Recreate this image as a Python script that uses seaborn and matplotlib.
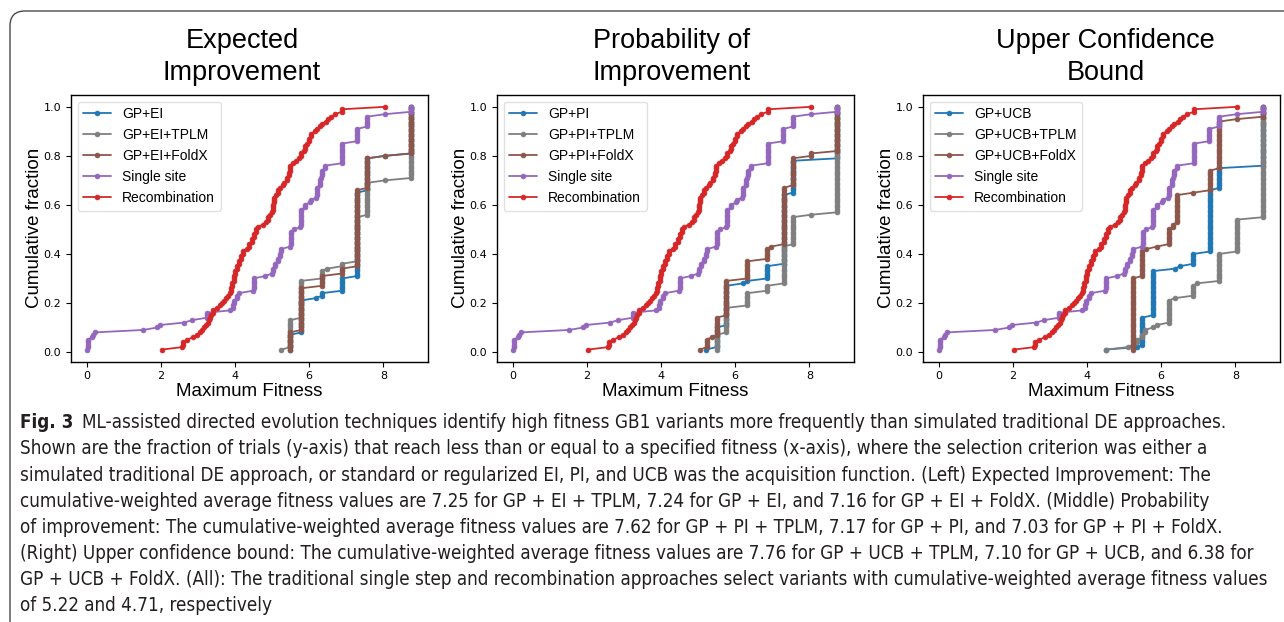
import numpy as np
import matplotlib
matplotlib.use("Agg")
import matplotlib.pyplot as plt
import seaborn as sns
from matplotlib.patches import FancyBboxPatch
from matplotlib.transforms import IdentityTransform

# ---------------- data (fitness value reached, cumulative % of trials) -------------
single_fit = [0.00, 0.02, 0.15, 0.17, 0.21, 1.52, 1.90, 1.96, 2.62, 2.84, 3.24, 3.87, 3.93, 3.98,
              4.05, 4.10, 4.48, 4.50, 4.81, 4.99, 5.03, 5.08, 5.15, 5.22, 5.25, 5.48, 5.50, 5.60,
              5.75, 5.78, 5.89, 6.02, 6.05, 6.18, 6.20, 6.28, 6.31, 6.34, 6.43, 6.88, 7.30, 7.57,
              8.04, 8.76]
single_cum = [1, 5, 6, 7, 8, 9, 10, 11, 12, 13, 16, 17, 19, 21,
              23, 24, 25, 30, 31, 32, 34, 36, 38, 40, 42, 43, 49, 50,
              51, 58, 60, 61, 62, 63, 67, 70, 71, 74, 76, 85, 91, 96,
              97, 100]

recomb_fit = [2.03, 2.57, 2.60, 2.71, 2.85, 2.98, 3.05, 3.11, 3.16, 3.22, 3.27, 3.30, 3.33, 3.36,
              3.40, 3.50, 3.60, 3.65, 3.70, 3.75, 3.80, 3.85, 3.88, 3.92, 3.96, 4.00, 4.05, 4.10,
              4.15, 4.21, 4.33, 4.38, 4.45, 4.50, 4.56, 4.62, 4.75, 4.82, 4.88, 4.95, 4.99, 5.02,
              5.05, 5.10, 5.15, 5.22, 5.28, 5.33, 5.40, 5.45, 5.48, 5.57, 5.65, 5.72, 5.78, 5.85,
              5.89, 5.95, 6.00, 6.05, 6.15, 6.20, 6.30, 6.34, 6.45, 6.52, 6.60, 6.70, 6.88, 8.04]
recomb_cum = [1, 2, 4, 5, 6, 7, 8, 9, 10, 11, 12, 13, 14, 15,
              17, 18, 19, 20, 21, 22, 23, 24, 26, 28, 31, 33, 35, 37,
              39, 41, 42, 44, 46, 48, 50, 51, 52, 53, 55, 56, 57, 60,
              63, 64, 66, 67, 68, 69, 71, 73, 76, 77, 78, 79, 81, 82,
              84, 85, 87, 89, 90, 91, 92, 93, 94, 95, 96, 97, 99, 100]

ei_fit = [5.49, 5.78, 6.18, 6.34, 6.88, 7.30, 7.57, 8.04, 8.76]
ei_cum = [7, 21, 22, 24, 30, 65, 79, 80, 100]
ei_tplm_fit = [5.25, 5.49, 5.78, 6.34, 6.49, 6.88, 7.30, 7.57, 8.04, 8.76]
ei_tplm_cum = [1, 13, 29, 33, 34, 36, 55, 69, 70, 100]
ei_foldx_fit = [5.49, 5.78, 6.34, 6.88, 7.30, 7.57, 8.04, 8.76]
ei_foldx_cum = [8, 26, 31, 34, 66, 79, 80, 100]

pi_fit = [5.20, 5.50, 5.76, 6.21, 6.33, 6.86, 7.31, 7.55, 8.76]
pi_cum = [1, 10, 27, 28, 29, 35, 64, 78, 100]
pi_tplm_fit = [5.50, 5.76, 6.33, 6.86, 7.31, 7.55, 8.05, 8.76]
pi_tplm_cum = [7, 18, 24, 27, 43, 55, 56, 100]
pi_foldx_fit = [5.05, 5.23, 5.36, 5.50, 5.76, 6.33, 6.86, 6.97, 7.31, 7.55, 8.05, 8.76]
pi_foldx_cum = [1, 5, 6, 14, 29, 37, 42, 43, 67, 79, 81, 100]

ucb_fit = [4.51, 5.34, 5.48, 5.77, 6.38, 6.50, 6.87, 7.32, 7.57, 8.76]
ucb_cum = [1, 2, 14, 33, 34, 35, 40, 66, 75, 100]
ucb_tplm_fit = [4.51, 5.10, 5.23, 5.35, 5.48, 5.57, 5.77, 5.88, 6.20, 6.38, 6.87, 6.96, 7.57,
                8.04, 8.76]
ucb_tplm_cum = [1, 2, 3, 5, 7, 9, 10, 11, 21, 22, 27, 28, 40, 54, 100]
ucb_foldx_fit = [5.23, 5.48, 5.60, 5.88, 6.20, 6.33, 6.43, 6.87, 7.32, 7.57, 8.04, 8.76]
ucb_foldx_cum = [30, 41, 42, 43, 50, 52, 64, 65, 74, 94, 95, 100]

n_trials = 100
titles = ["Expected\nImprovement", "Probability of\nImprovement", "Upper Confidence\nBound"]
acq_names = ["EI", "PI", "UCB"]
xlabel = "Maximum Fitness"
ylabel = "Cumulative fraction"

caption_bold = "Fig. 3"
caption_lines = [
    "ML-assisted directed evolution techniques identify high fitness GB1 variants more frequently than simulated traditional DE approaches.",
    "Shown are the fraction of trials (y-axis) that reach less than or equal to a specified fitness (x-axis), where the selection criterion was either a",
    "simulated traditional DE approach, or standard or regularized EI, PI, and UCB was the acquisition function. (Left) Expected Improvement: The",
    "cumulative-weighted average fitness values are 7.25 for GP + EI + TPLM, 7.24 for GP + EI, and 7.16 for GP + EI + FoldX. (Middle) Probability",
    "of improvement: The cumulative-weighted average fitness values are 7.62 for GP + PI + TPLM, 7.17 for GP + PI, and 7.03 for GP + PI + FoldX.",
    "(Right) Upper confidence bound: The cumulative-weighted average fitness values are 7.76 for GP + UCB + TPLM, 7.10 for GP + UCB, and 6.38 for",
    "GP + UCB + FoldX. (All): The traditional single step and recombination approaches select variants with cumulative-weighted average fitness values",
    "of 5.22 and 4.71, respectively",
]

panel_series = [
    [(ei_fit, ei_cum), (ei_tplm_fit, ei_tplm_cum), (ei_foldx_fit, ei_foldx_cum)],
    [(pi_fit, pi_cum), (pi_tplm_fit, pi_tplm_cum), (pi_foldx_fit, pi_foldx_cum)],
    [(ucb_fit, ucb_cum), (ucb_tplm_fit, ucb_tplm_cum), (ucb_foldx_fit, ucb_foldx_cum)],
]
colors = ["#1f77b4", "#7f7f7f", "#8c564b", "#9467bd", "#d62728"]

# ---------------- style ----------------
sns.set_style("ticks", {"axes.edgecolor": "black", "xtick.color": "black", "ytick.color": "black",
                        "text.color": "black", "axes.labelcolor": "black"})
plt.rcParams["font.family"] = ["Liberation Sans", "DejaVu Sans"]
plt.rcParams["xtick.major.size"] = 3.5
plt.rcParams["ytick.major.size"] = 3.5
plt.rcParams["axes.linewidth"] = 1.0


def trials(fit, cum):
    counts = np.diff(np.concatenate([[0], cum]))
    x = np.repeat(np.asarray(fit, float), counts)
    y = np.arange(1, len(x) + 1) / n_trials
    return x, y


W, H = 1284, 622
fig = plt.figure(figsize=(W / 100, H / 100), dpi=100)
fig.patch.set_facecolor("white")

lefts = [70.7, 496.7, 922.7]
ax_w, ax_top, ax_bot = 357.0, 94.7, 361.7
title_x = [0.48, 0.491, 0.513]

for i in range(3):
    ax = fig.add_axes([lefts[i] / W, 1 - ax_bot / H, ax_w / W, (ax_bot - ax_top) / H])
    a = acq_names[i]
    labels = [f"GP+{a}", f"GP+{a}+TPLM", f"GP+{a}+FoldX", "Single site", "Recombination"]
    series = panel_series[i] + [(single_fit, single_cum), (recomb_fit, recomb_cum)]
    for (fit, cum), lab, col in zip(series, labels, colors):
        x, y = trials(fit, cum)
        sns.lineplot(x=x, y=y, sort=False, estimator=None, color=col, label=lab,
                     marker="o", markersize=3.4, markeredgewidth=0.6, markeredgecolor=col,
                     linewidth=1.3, ax=ax)
    ax.set_xticks([0, 2, 4, 6, 8])
    ax.set_yticks([0.0, 0.2, 0.4, 0.6, 0.8, 1.0])
    ax.set_yticklabels(["0.0", "0.2", "0.4", "0.6", "0.8", "1.0"])
    for t in ax.get_xticklabels() + ax.get_yticklabels():
        t.set_fontfamily("DejaVu Sans")
        t.set_fontsize(8)
    ax.set_xlabel(xlabel, fontsize=13.5)
    ax.set_ylabel(ylabel, fontsize=13.5)
    ax.xaxis.set_label_coords(0.5, -0.078)
    ax.yaxis.set_label_coords(-0.077, 0.5)
    ax.set_title(titles[i], fontsize=19.5, pad=10.5, x=title_x[i], linespacing=1.32,
                 color="black")
    leg = ax.legend(loc="upper left", fontsize=10, frameon=True, borderaxespad=0.5)
    leg.get_frame().set_edgecolor("0.85")
    for sp in ax.spines.values():
        sp.set_visible(True)
        sp.set_color("black")

# ---------------- caption ----------------
cap_font = ["Liberation Sans Narrow", "DejaVu Sans"]
cap_color = "#231f20"
base0, step = 428.3, 26.17
x0 = 20 / W
fs0 = 12
bold = fig.text(x0, 1 - base0 / H, caption_bold, fontsize=fs0, fontweight="bold",
                family=cap_font, fontstretch="condensed", color=cap_color, va="baseline")
texts = []
for k, line in enumerate(caption_lines):
    t = fig.text(x0, 1 - (base0 + k * step) / H, line, fontsize=fs0, family=cap_font,
                 fontstretch="condensed", color=cap_color, va="baseline")
    texts.append(t)
renderer = fig.canvas.get_renderer()
wid = texts[6].get_window_extent(renderer).width
fs = fs0 * 1252.0 / wid
for t in texts + [bold]:
    t.set_fontsize(fs)
bb = bold.get_window_extent(renderer)
texts[0].set_x((bb.x1 + 9) / W)

# ---------------- outer frame ----------------
frame = FancyBboxPatch((10, -40), 1340, (H - 11) + 40,
                       boxstyle="round,pad=0,rounding_size=15",
                       transform=IdentityTransform(), fill=False,
                       edgecolor="#4a4a4a", linewidth=1.0)
fig.add_artist(frame)

fig.savefig("out.png", dpi=100, facecolor="white")
